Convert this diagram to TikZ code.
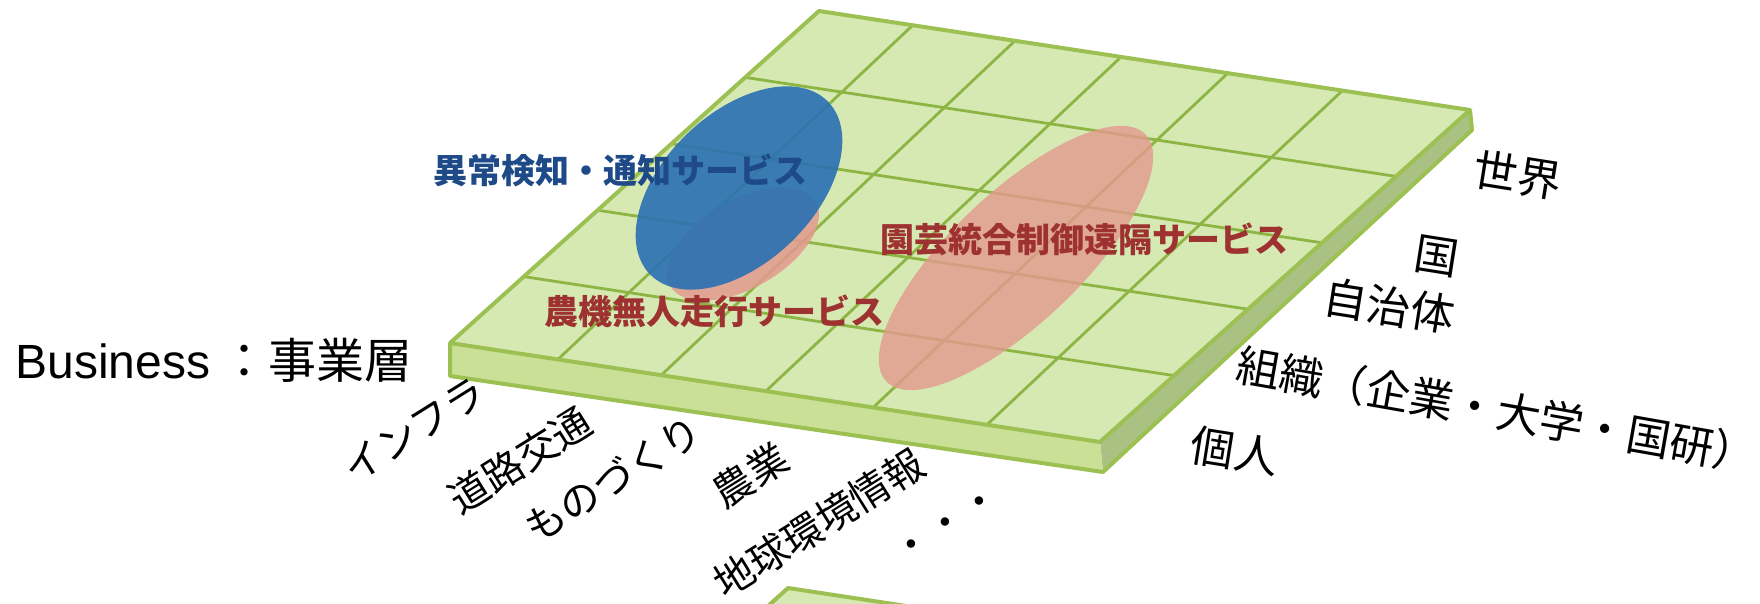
\documentclass[tikz,border=0pt]{standalone}
\usepackage{fontspec}
\setmainfont{Liberation Sans}
\newfontfamily\jp{Noto Sans CJK JP}
\usetikzlibrary{calc}
\definecolor{topg}{HTML}{D6E9B3}
\definecolor{frontg}{HTML}{C9E096}
\definecolor{sideg}{HTML}{A9C283}
\definecolor{edgeg}{HTML}{9CC152}
\definecolor{gridg}{HTML}{8DB544}
\definecolor{blueE}{HTML}{2A70B3}
\definecolor{pinkE}{HTML}{E39A8E}
\definecolor{navy}{HTML}{1E4B87}
\definecolor{darkred}{HTML}{9E3231}
\tikzset{
  slabedge/.style={draw=edgeg, line width=2pt, line join=round},
  gridline/.style={draw=gridg, line width=1.4pt},
  svc/.style={font=\jp\bfseries\fontsize{17}{20}\selectfont, inner sep=0pt},
  bluelab/.style={svc, text=navy},
  redlab/.style={svc, text=darkred},
  axlab/.style={font=\jp\fontsize{22}{26}\selectfont, inner sep=0pt, rotate=-9},
  seclab/.style={font=\jp\fontsize{20}{24}\selectfont, inner sep=0pt, rotate=32},
}
\begin{document}
\begin{tikzpicture}[x=0.5pt,y=-0.5pt]
\useasboundingbox (0,0) rectangle (1760,604);
\clip (0,0) rectangle (1760,604);
% slab corners
\coordinate (A) at (819,11);
\coordinate (B) at (1470,110);
\coordinate (C) at (1100,442);
\coordinate (D) at (450,343);
\coordinate (Bb) at (1472,130);
\coordinate (Cb) at (1103,472);
\coordinate (Db) at (450,376);
% second slab (partly visible)
\coordinate (A2) at (788,588);
\fill[topg] (A2) -- ++(651,99) -- ++(-369,332) -- ++(-651,-99) -- cycle;
\draw[slabedge] ($(A2)+(651,99)$) -- (A2) -- ++(-369,332);
% side faces
\fill[sideg] (B) -- (Bb) -- (Cb) -- (C) -- cycle;
\fill[frontg] (D) -- (C) -- (Cb) -- (Db) -- cycle;
\draw[slabedge] (D) -- (Db) -- (Cb) -- (Bb) -- (B);
% top face
\fill[topg] (A) -- (B) -- (C) -- (D) -- cycle;
% grid
\foreach \u/\w in {0.166/0.144, 0.325/0.301, 0.486/0.464, 0.651/0.628, 0.826/0.804}
  \draw[gridline] ($(D)!\u!(C)$) -- ($(A)!\w!(B)$);
\foreach \v in {0.2,0.4,0.6,0.8}
  \draw[gridline] ($(D)!\v!(A)$) -- ($(C)!\v!(B)$);
\draw[slabedge] (A) -- (B) -- (C) -- (D) -- cycle;
% ellipses
\fill[pinkE, opacity=0.85, rotate around={30:(743,244)}] (743,244) ellipse [x radius=84, y radius=44];
\fill[blueE, opacity=0.9, rotate around={44:(739,188)}] (739,188) ellipse [x radius=124, y radius=75];
\fill[pinkE, opacity=0.8, rotate around={43.6:(1016,258)}] (1016,258) ellipse [x radius=179, y radius=65];
% service labels
\node[bluelab] (s1) at (620,170) {異常検知・通知サービス};
\node[redlab] (s2) at (714,311) {農機無人走行サービス};
\node[redlab] (s3) at (1084,239) {園芸統合制御遠隔サービス};
% layer label
\node[anchor=base west, inner sep=0pt, font=\fontsize{24}{28}\selectfont] (biz) at (15,378) {Business\hspace{5pt}{\jp ：事業層}};
% scale labels
\node[axlab] (w1) at (1518,175) {世界};
\node[axlab] (w2) at (1437,256) {国};
\node[axlab] (w3) at (1389,306) {自治体};
\node[axlab, rotate=-1] (w4) at (1497,410) {組織（企業・大学・国研）};
\node[axlab] (w5) at (1235,451) {個人};
% sector labels
\node[seclab] (f1) at (414,430) {インフラ};
\node[seclab] (f2) at (520,460) {道路交通};
\node[seclab] (f3) at (613,479) {ものづくり};
\node[seclab] (f4) at (750,475) {農業};
\node[seclab] (f5) at (819,523) {地球環境情報};
\node[seclab] (f6) at (948,527) {・・・};
\end{tikzpicture}
\end{document}
